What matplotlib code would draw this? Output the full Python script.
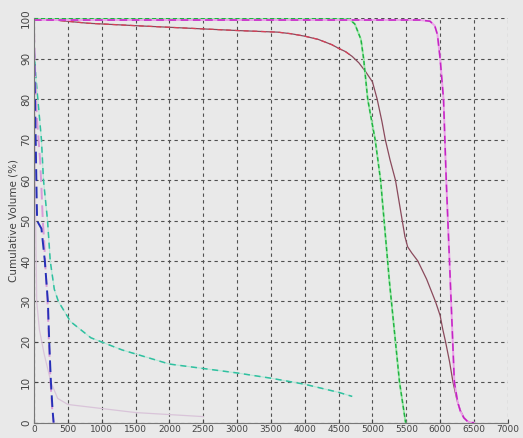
import matplotlib
matplotlib.use("Agg")
import matplotlib.pyplot as plt
import numpy as np

# ---- data ----
# brown measured curve + red fit
brown_x = [0, 300, 800, 1500, 2000, 2500, 3000, 3600, 3800, 4000, 4200, 4400, 4500, 4600, 4700, 4800,
           4900, 5000, 5070, 5140, 5190, 5260, 5340, 5400, 5440, 5480, 5520, 5580, 5670, 5800, 5930,
           6000, 6040, 6080, 6140, 6190, 6250, 6300, 6350, 6400, 6450]
brown_y = [100, 99.6, 98.8, 98.2, 97.8, 97.4, 97.0, 96.6, 96.2, 95.6, 94.8, 93.5, 92.6, 91.8, 90.6, 89.0,
           86.8, 84.3, 80.0, 74.5, 70.0, 65.0, 60.0, 54.0, 50.0, 46.0, 43.5, 42.0, 40.0, 35.5, 30.0,
           26.5, 23.0, 20.0, 15.0, 10.0, 5.5, 3.0, 1.3, 0.4, 0]

# green
green_x = [0, 4600, 4660, 4740, 4830, 4870, 4930, 4990, 5040, 5120, 5250, 5400, 5490]
green_y = [100, 100, 99.8, 98.6, 94.8, 90.0, 80.0, 74.5, 70.0, 60.0, 35.0, 10.0, 0]

# magenta
mag_x = [0, 5700, 5850, 5920, 5960, 6000, 6050, 6090, 6150, 6210, 6260, 6300, 6350, 6400, 6450, 6500]
mag_y = [99.6, 99.6, 99.3, 98.2, 96.0, 90.0, 80.0, 60.0, 35.0, 10.0, 5.0, 2.8, 1.2, 0.4, 0, 0]

# teal
teal_x = [0, 30, 110, 140, 200, 240, 300, 360, 540, 840, 1300, 2000, 2500, 3000, 3500, 4000, 4500, 4700]
teal_y = [92, 85, 70, 60, 50, 40, 33, 30, 25, 21, 18, 14.5, 13.4, 12.3, 11.0, 9.5, 7.5, 6.5]

# dark blue
blue_x = [0, 15, 30, 40, 45, 60, 110, 160, 205, 225, 250, 275, 290]
blue_y = [93, 80, 65, 55, 51, 49.5, 48, 40, 30, 20, 10, 3, 0]

# pink dashed
pink_x = [0, 20, 40, 90, 110, 130, 150, 170, 200, 220, 245, 270, 290]
pink_y = [97, 85, 76, 65, 58, 50, 45, 38, 30, 20, 10, 3, 0]

# faint light-pink curve
faint_x = [0, 10, 25, 40, 80, 150, 250, 350, 500, 1000, 1500, 2000, 2500]
faint_y = [100, 80, 50, 30, 23, 17, 10, 6, 4.5, 3.5, 2.5, 2.0, 1.5]

bg = '#e9e9e9'
fig = plt.figure(figsize=(5.23, 4.38), dpi=100, facecolor=bg)
ax = fig.add_axes([0.065, 0.035, 0.906, 0.923], facecolor=bg)

# solid measured curves underneath, dashed fits on top
ax.plot(brown_x, brown_y, color='#8a4a5c', lw=0.9)
ax.plot(brown_x[:15], brown_y[:15], color='#d84058', lw=0.9, ls=(0, (4, 3)))
ax.plot(green_x, green_y, color='#9be8a8', lw=1.4)
ax.plot(green_x, green_y, color='#1fb040', lw=1.0, ls=(0, (3, 2)))
ax.plot(mag_x, mag_y, color='#eca0ea', lw=1.4)
ax.plot(mag_x, mag_y, color='#c424c4', lw=1.1, ls=(0, (5, 3)))
ax.plot(faint_x, faint_y, color='#d9c4d9', lw=0.9)
ax.plot(teal_x, teal_y, color='#b8e8d8', lw=0.8)
ax.plot(teal_x, teal_y, color='#30c0a0', lw=1.1, ls=(0, (4, 3)))
ax.plot(pink_x, pink_y, color='#d89ad8', lw=1.4, ls=(0, (6, 3)))
ax.plot(blue_x, blue_y, color='#2630b8', lw=1.4, ls=(0, (6, 3)))

ax.set_xlim(0, 7000)
ax.set_ylim(0, 100)
ax.set_xticks(np.arange(0, 7001, 500))
ax.set_yticks(np.arange(0, 101, 10))
ax.grid(True, color='#505050', lw=0.8, ls=(0, (3, 3)))
ax.set_axisbelow(True)

for s in ['top', 'right']:
    ax.spines[s].set_visible(False)
for s in ['left', 'bottom']:
    ax.spines[s].set_color('#777777')
    ax.spines[s].set_linewidth(0.8)

ax.tick_params(axis='x', direction='in', length=3, labelsize=6.5, pad=1.5, colors='#444444')
ax.tick_params(axis='y', direction='in', length=3, labelsize=7.5, pad=2, colors='#444444')
for lab in ax.get_yticklabels():
    lab.set_rotation(90)
    lab.set_va('center')
ax.set_ylabel('Cumulative Volume (%)', fontsize=7.5, color='#444444', labelpad=2)

fig.savefig('out.png', dpi=100, facecolor=bg)
